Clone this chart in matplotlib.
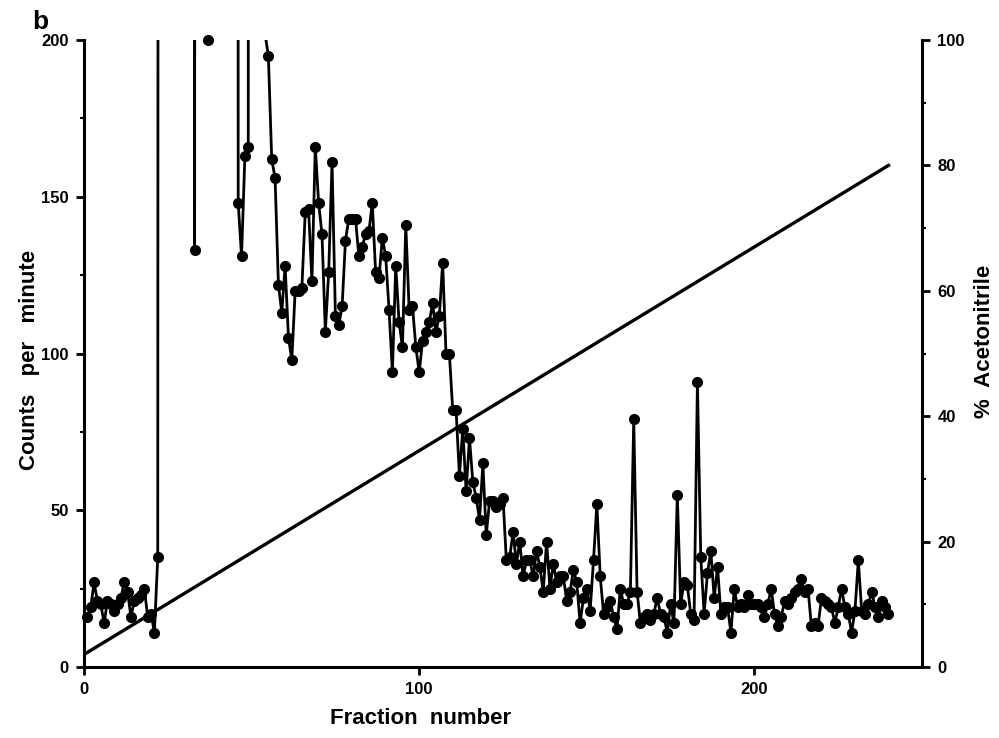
import numpy as np
import matplotlib
matplotlib.use("Agg")
import matplotlib.pyplot as plt

# Fraction numbers and counts per minute (values > 200 run off the top of the chart)
fractions = list(range(1, 241))
counts = [
    16, 19, 27, 21, 20, 14, 21, 20, 18, 20,          # 1-10
    22, 27, 24, 16, 21, 22, 23, 25, 16, 17,          # 11-20
    11, 35, 2500, 3000, 3000, 3000, 3000, 3000, 3000, 2500,  # 21-30
    2500, 2500, 133, 3000, 3000, 3000, 200, 3000, 3000, 3000,  # 31-40
    3000, 3000, 3000, 3000, 3000, 148, 131, 163, 166, 3000,  # 41-50
    3000, 3000, 3000, 202, 195, 162, 156, 122, 113, 128,     # 51-60
    105, 98, 120, 120, 121, 145, 146, 123, 166, 148,         # 61-70
    138, 107, 126, 161, 112, 109, 115, 136, 143, 143,        # 71-80
    143, 131, 134, 138, 139, 148, 126, 124, 137, 131,        # 81-90
    114, 94, 128, 110, 102, 141, 114, 115, 102, 94,          # 91-100
    104, 107, 110, 116, 107, 112, 129, 100, 100, 82,         # 101-110
    82, 61, 76, 56, 73, 59, 54, 47, 65, 42,                  # 111-120
    53, 53, 51, 52, 54, 34, 35, 43, 33, 40,                  # 121-130
    29, 34, 34, 29, 37, 32, 24, 40, 25, 33,                  # 131-140
    27, 29, 29, 21, 24, 31, 27, 14, 22, 25,                  # 141-150
    18, 34, 52, 29, 17, 19, 21, 16, 12, 25,                  # 151-160
    20, 20, 24, 79, 24, 14, 16, 17, 15, 17,                  # 161-170
    22, 17, 16, 11, 20, 14, 55, 20, 27, 26,                  # 171-180
    17, 15, 91, 35, 17, 30, 37, 22, 32, 17,                  # 181-190
    19, 19, 11, 25, 19, 20, 19, 23, 20, 20,                  # 191-200
    20, 19, 16, 20, 25, 17, 13, 16, 21, 20,                  # 201-210
    22, 24, 25, 28, 24, 25, 13, 14, 13, 22,                  # 211-220
    21, 20, 19, 14, 19, 25, 19, 17, 11, 18,                  # 221-230
    34, 18, 17, 20, 24, 19, 16, 21, 19, 17,                  # 231-240
]

# Acetonitrile gradient (linear)
gradient_fraction = [0, 240]
gradient_percent = [2, 80]

x_ticks = [0, 100, 200]
left_ticks = [0, 50, 100, 150, 200]
right_ticks = [0, 20, 40, 60, 80, 100]

plt.rcParams['font.family'] = ['Liberation Sans', 'DejaVu Sans']

fig = plt.figure(figsize=(9.99, 7.38), dpi=100)
ax = fig.add_axes([84/999, 71/738, 838/999, 627/738])
ax2 = ax.twinx()

ax.set_xlim(0, 250)
ax.set_ylim(0, 200)
ax2.set_ylim(0, 100)

x = np.array(fractions, dtype=float)
y = np.array(counts, dtype=float)

# connecting line (clipped at the top of the axes)
ax.plot(x, y, color='black', lw=2.0, zorder=3, solid_joinstyle='round')
# markers only where the value is on-scale
vis = y <= 200
ax.plot(x[vis], y[vis], linestyle='none', marker='o', ms=7,
        color='black', zorder=4, clip_on=False)

ax2.plot(gradient_fraction, gradient_percent, color='black', lw=2.4, zorder=2)

for a in (ax, ax2):
    for s in a.spines.values():
        s.set_linewidth(2.2)
    a.spines['top'].set_visible(False)

ax.spines['right'].set_visible(False)
ax2.spines['left'].set_visible(False)
ax2.spines['bottom'].set_visible(False)

ax.set_xticks(x_ticks)
ax.set_yticks(left_ticks)
ax.set_yticks([25, 75, 125, 175], minor=True)
ax2.set_yticks(right_ticks)
ax2.set_yticks([10, 30, 50, 70, 90], minor=True)

ax.tick_params(axis='both', which='major', direction='out', length=6, width=2,
               labelsize=12, pad=5)
ax.tick_params(axis='y', which='minor', direction='out', length=3, width=1.5)
ax2.tick_params(axis='y', which='major', direction='out', length=6, width=2,
                labelsize=12, pad=5)
ax2.tick_params(axis='y', which='minor', direction='out', length=3, width=1.5)
for lab in ax.get_xticklabels() + ax.get_yticklabels() + ax2.get_yticklabels():
    lab.set_fontweight('bold')

fig.text(421/999, 1 - 718/738, 'Fraction  number', fontsize=16,
         fontweight='bold', ha='center', va='center')
fig.text(30/999, 1 - 360/738, 'Counts   per   minute', fontsize=16,
         fontweight='bold', ha='center', va='center', rotation=90)
fig.text(985/999, 1 - 341/738, '%  Acetonitrile', fontsize=16,
         fontweight='bold', ha='center', va='center', rotation=90)

fig.text(40/999, 1 - 22/738, 'b', fontsize=19, fontweight='bold',
         ha='center', va='center')

fig.savefig('out.png', dpi=100)
